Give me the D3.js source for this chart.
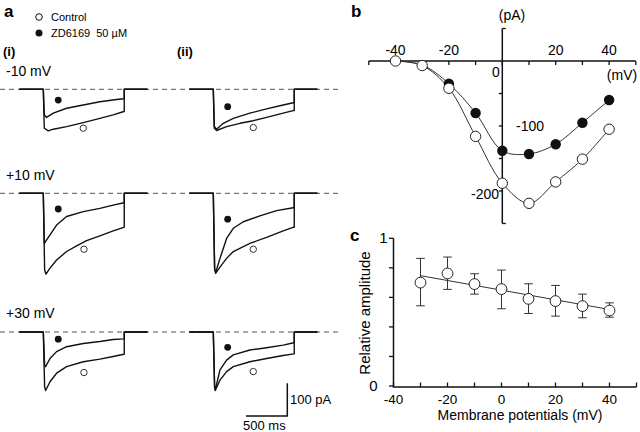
<!DOCTYPE html>
<html><head><meta charset="utf-8">
<script src="https://cdn.jsdelivr.net/npm/d3@7/dist/d3.min.js"></script>
<style>
html,body{margin:0;padding:0;background:#fff;}
svg{display:block;font-family:Arial,"Liberation Sans",Helvetica,sans-serif;}
</style></head>
<body><svg id="chart" width="640" height="432"></svg>
<script>
// ---------- Panel a: current traces (t in ms from pulse onset, I in pA) ----------
const pulseEnd = 980, preStart = -290, postEnd = 1260;
const rowLabels = ["-10 mV", "+10 mV", "+30 mV"];
const colLabels = ["(i)", "(ii)"];
// row -10 mV
const ctrl_m10_i = [[12,-119],[60,-127],[121,-122],[282,-114],[484,-102],[685,-89],[846,-78],[975,-68]];
const zd_m10_i   = [[12,-78],[40,-86],[121,-73],[282,-58],[484,-48],[685,-38],[887,-31],[975,-29]];
const ctrl_m10_ii= [[12,-119],[40,-126],[161,-114],[322,-104],[484,-96],[645,-86],[846,-73],[967,-65]];
const zd_m10_ii  = [[12,-114],[40,-122],[121,-104],[242,-89],[443,-73],[645,-60],[846,-48],[967,-41]];
// row +10 mV
const ctrl_p10_i = [[16,-234],[32,-247],[81,-229],[161,-204],[282,-178],[403,-161],[524,-145],[685,-130],[846,-115],[975,-104]];
const zd_p10_i   = [[12,-153],[81,-127],[161,-97],[282,-71],[484,-56],[685,-46],[846,-36],[975,-29]];
const ctrl_p10_ii= [[16,-229],[28,-245],[81,-226],[161,-199],[242,-178],[443,-153],[645,-135],[846,-115],[967,-104]];
const zd_p10_ii  = [[16,-234],[32,-240],[81,-199],[161,-138],[242,-107],[363,-87],[564,-69],[766,-53],[967,-44]];
// row +30 mV
const ctrl_p30_i = [[16,-167],[28,-179],[81,-152],[161,-126],[282,-106],[484,-91],[685,-83],[846,-75],[975,-68]];
const zd_p30_i   = [[16,-101],[28,-106],[81,-81],[161,-60],[282,-45],[484,-35],[685,-29],[846,-23],[975,-21]];
const ctrl_p30_ii= [[16,-167],[24,-179],[81,-147],[161,-121],[242,-106],[443,-91],[645,-81],[846,-72],[975,-67]];
const zd_p30_ii  = [[16,-172],[24,-177],[81,-116],[161,-86],[242,-70],[443,-55],[645,-48],[846,-40],[975,-33]];
const tracesCtrl = [[ctrl_m10_i, ctrl_m10_ii],[ctrl_p10_i, ctrl_p10_ii],[ctrl_p30_i, ctrl_p30_ii]];
const tracesZd   = [[zd_m10_i, zd_m10_ii],[zd_p10_i, zd_p10_ii],[zd_p30_i, zd_p30_ii]];
// marker positions [t, pA] : filled (ZD) and open (control)
const markZd   = [[[181,-33],[174,-53]],[[181,-48],[174,-79]],[[181,-22],[174,-47]]];
const markCtrl = [[[484,-119],[484,-117]],[[492,-171],[484,-171]],[[492,-124],[484,-121]]];
const scaleBarMs = 500, scaleBarPa = 100;

// ---------- Panel b: I-V ----------
const ivVolt = [-40,-30,-20,-10,0,10,20,30,40];
const ivCtrl = [0,-7,-42,-116,-188,-219,-186,-151,-105];
const ivZd   = [0,-6,-35,-80,-138,-143,-128,-95,-60];
const ivXTicks = [-50,-40,-30,-20,-10,0,10,20,30,40,50];
const ivXLabels = [-40,-20,20,40];
const ivYTicks = [50,0,-50,-100,-150,-200,-250];

// ---------- Panel c: relative amplitude ----------
const relVolt = [-30,-20,-10,0,10,20,30,40];
const relMean = [0.70,0.762,0.69,0.656,0.59,0.575,0.541,0.511];
const relHi   = [0.864,0.873,0.76,0.785,0.692,0.681,0.622,0.563];
const relLo   = [0.543,0.654,0.622,0.523,0.491,0.473,0.462,0.466];
const fitVolt = [-30,40];
const fitRel  = [0.747,0.518];
const relXTicks = [-40,-30,-20,-10,0,10,20,30,40,50];
const relXLabels = [-40,-20,0,20,40];
const relYTicks = [0,0.2,0.4,0.6,0.8,1];

const svg = d3.select("#chart");
svg.append("rect").attr("width",640).attr("height",432).attr("fill","#fff");

// ===== Panel a =====
const colX = [43.3, 213.3];
const rowY = [89.3, 193.3, 332];
const rowLabelY = [76, 180, 318];
const pxPerMs = 41.3/500, pxPerPa = 32.7/100;

svg.append("text").attr("x",4).attr("y",17).attr("font-size",17).attr("font-weight","bold").text("a");
svg.append("circle").attr("cx",39).attr("cy",17).attr("r",3.3).attr("fill","#fff").attr("stroke","#111").attr("stroke-width",1);
svg.append("text").attr("x",51).attr("y",21).attr("font-size",11).text("Control");
svg.append("circle").attr("cx",39).attr("cy",33).attr("r",3.5).attr("fill","#111");
svg.append("text").attr("x",51).attr("y",37).attr("font-size",11).attr("xml:space","preserve").text("ZD6169  50 µM");
colLabels.forEach((l,i)=>{
  svg.append("text").attr("x",[3,177][i]).attr("y",56).attr("font-size",13).attr("font-weight","bold").text(l);
});

rowLabels.forEach((lab,r)=>{
  svg.append("text").attr("x",6).attr("y",rowLabelY[r]).attr("font-size",14).text(lab);
  svg.append("line").attr("x1",0).attr("x2",338).attr("y1",rowY[r]).attr("y2",rowY[r])
    .attr("stroke","#555").attr("stroke-width",1).attr("stroke-dasharray","5,4");
  colX.forEach((x0,c)=>{
    const xs = d3.scaleLinear().domain([0,500]).range([x0, x0+500*pxPerMs]);
    const ys = d3.scaleLinear().domain([0,-100]).range([rowY[r], rowY[r]+100*pxPerPa]);
    const line = d3.line().x(d=>xs(d[0])).y(d=>ys(d[1]));
    const wrap = arr => [[preStart,0],[0,0],...arr,[pulseEnd,arr[arr.length-1][1]],[pulseEnd,0],[postEnd,0]];
    [tracesZd[r][c], tracesCtrl[r][c]].forEach(tr=>{
      svg.append("path").attr("d",line(wrap(tr))).attr("fill","none")
        .attr("stroke","#111").attr("stroke-width",1.4).attr("stroke-linejoin","round");
    });
    const mz = markZd[r][c], mc = markCtrl[r][c];
    svg.append("circle").attr("cx",xs(mz[0])).attr("cy",ys(mz[1])).attr("r",3.4).attr("fill","#111");
    svg.append("circle").attr("cx",xs(mc[0])).attr("cy",ys(mc[1])).attr("r",3.2).attr("fill","#fff").attr("stroke","#333").attr("stroke-width",1);
    if (r===2 && c===1) {
      // scale bar
      const bx = 287.3, by = 416;
      const sx = d3.scaleLinear().domain([0,500]).range([0,500*pxPerMs]);
      const sy = d3.scaleLinear().domain([0,100]).range([0,100*pxPerPa]);
      svg.append("path").attr("d",`M${bx-sx(scaleBarMs)},${by}H${bx}V${by-sy(scaleBarPa)}`)
        .attr("fill","none").attr("stroke","#111").attr("stroke-width",1.5);
      svg.append("text").attr("x",290).attr("y",404).attr("font-size",13).text(scaleBarPa+" pA");
      svg.append("text").attr("x",243).attr("y",430).attr("font-size",13).text(scaleBarMs+" ms");
    }
  });
});

// ===== Panel b =====
const bx = d3.scaleLinear().domain([-50,50]).range([368.8,635.8]);
const by = d3.scaleLinear().domain([0,-100]).range([61,126]);
const gb = svg.append("g");
svg.append("text").attr("x",351).attr("y",17).attr("font-size",17).attr("font-weight","bold").text("b");
gb.append("line").attr("x1",bx(-50)).attr("x2",bx(50)).attr("y1",by(0)).attr("y2",by(0)).attr("stroke","#111").attr("stroke-width",1.5);
ivXTicks.forEach(v=>{
  gb.append("line").attr("x1",bx(v)).attr("x2",bx(v)).attr("y1",by(0)).attr("y2",by(0)+4).attr("stroke","#111").attr("stroke-width",1.3);
});
ivXLabels.forEach(v=>{
  gb.append("text").attr("x",bx(v)).attr("y",55).attr("text-anchor","middle").attr("font-size",14).text(v);
});
gb.append("line").attr("x1",bx(0)).attr("x2",bx(0)).attr("y1",by(50)).attr("y2",by(-250)).attr("stroke","#111").attr("stroke-width",1.5);
ivYTicks.forEach(v=>{
  const right = (v===50||v===-250);
  if (v===0) return;
  gb.append("line").attr("x1",bx(0)).attr("x2",bx(0)+(right?3.5:-3.5)).attr("y1",by(v)).attr("y2",by(v)).attr("stroke","#111").attr("stroke-width",1.3);
});
gb.append("text").attr("x",496).attr("y",77).attr("text-anchor","middle").attr("font-size",14).text("0");
gb.append("text").attr("x",516).attr("y",by(-100)+5).attr("font-size",14).text("-100");
gb.append("text").attr("x",499).attr("y",by(-200)+8).attr("text-anchor","end").attr("font-size",14).text("-200");
gb.append("text").attr("x",512).attr("y",20).attr("text-anchor","middle").attr("font-size",14).text("(pA)");
gb.append("text").attr("x",622).attr("y",80).attr("text-anchor","middle").attr("font-size",14).text("(mV)");
const bline = d3.line().x((d,i)=>bx(ivVolt[i])).y(d=>by(d)).curve(d3.curveCatmullRom.alpha(0.5));
gb.append("path").attr("d",bline(ivZd)).attr("fill","none").attr("stroke","#333").attr("stroke-width",1);
gb.append("path").attr("d",bline(ivCtrl)).attr("fill","none").attr("stroke","#333").attr("stroke-width",1);
ivZd.forEach((v,i)=>{ if(i<2) return;
  gb.append("circle").attr("cx",bx(ivVolt[i])).attr("cy",by(v)).attr("r",5.2).attr("fill","#111");
});
ivCtrl.forEach((v,i)=>{
  gb.append("circle").attr("cx",bx(ivVolt[i])).attr("cy",by(v)).attr("r",5.2).attr("fill","#fff").attr("stroke","#222").attr("stroke-width",1);
});

// ===== Panel c =====
const cx = d3.scaleLinear().domain([-40,50]).range([393.5,636.5]);
const cy = d3.scaleLinear().domain([0,1]).range([386,238.3]);
const gc = svg.append("g");
svg.append("text").attr("x",350).attr("y",241).attr("font-size",17).attr("font-weight","bold").text("c");
gc.append("line").attr("x1",cx(-40)).attr("x2",cx(-40)).attr("y1",cy(0)).attr("y2",cy(1)).attr("stroke","#111").attr("stroke-width",1.5);
relYTicks.forEach(v=>{
  gc.append("line").attr("x1",cx(-40)).attr("x2",cx(-40)-4.5).attr("y1",cy(v)).attr("y2",cy(v)).attr("stroke","#111").attr("stroke-width",1.3);
});
gc.append("text").attr("x",383.5).attr("y",cy(1)+5).attr("text-anchor","middle").attr("font-size",15).text("1");
gc.append("text").attr("x",373.5).attr("y",cy(0)+5).attr("text-anchor","middle").attr("font-size",15).text("0");
gc.append("line").attr("x1",cx(-40)-0.75).attr("x2",cx(50)).attr("y1",cy(0)+1).attr("y2",cy(0)+1).attr("stroke","#111").attr("stroke-width",1.5);
relXTicks.forEach(v=>{
  gc.append("line").attr("x1",cx(v)).attr("x2",cx(v)).attr("y1",cy(0)+1).attr("y2",cy(0)-3.5).attr("stroke","#111").attr("stroke-width",1.3);
});
relXLabels.forEach(v=>{
  gc.append("text").attr("x",cx(v)).attr("y",403.5).attr("text-anchor","middle").attr("font-size",13.5).text(v);
});
gc.append("text").attr("x",520).attr("y",420).attr("text-anchor","middle").attr("font-size",14).text("Membrane potentials (mV)");
gc.append("text").attr("transform","translate(370,313) rotate(-90)").attr("text-anchor","middle").attr("font-size",15).text("Relative amplitude");
gc.append("line").attr("x1",cx(fitVolt[0])).attr("x2",cx(fitVolt[1])).attr("y1",cy(fitRel[0])).attr("y2",cy(fitRel[1])).attr("stroke","#333").attr("stroke-width",1);
relVolt.forEach((v,i)=>{
  const x = cx(v);
  gc.append("line").attr("x1",x).attr("x2",x).attr("y1",cy(relHi[i])).attr("y2",cy(relLo[i])).attr("stroke","#333").attr("stroke-width",1);
  [relHi[i],relLo[i]].forEach(e=>{
    gc.append("line").attr("x1",x-4.3).attr("x2",x+4.3).attr("y1",cy(e)).attr("y2",cy(e)).attr("stroke","#333").attr("stroke-width",1);
  });
  gc.append("circle").attr("cx",x).attr("cy",cy(relMean[i])).attr("r",5.4).attr("fill","#fff").attr("stroke","#222").attr("stroke-width",1);
});
</script></body></html>
